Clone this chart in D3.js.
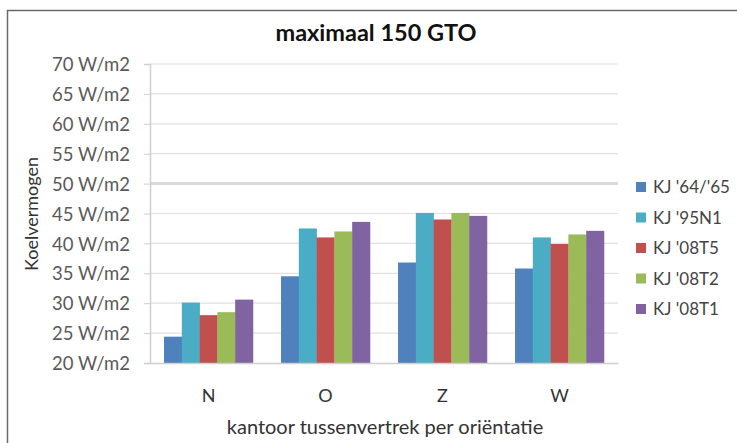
<!DOCTYPE html>
<html><head><meta charset="utf-8">
<script src="https://cdn.jsdelivr.net/npm/d3@7/dist/d3.min.js"></script>
<style>body{margin:0;background:#fff}svg{display:block}text{font-family:Lato,"Open Sans",sans-serif}</style>
</head><body><svg id="c" width="737" height="443"></svg>
<script>
const categories = ["N", "O", "Z", "W"];
const seriesNames = ["KJ '64/'65", "KJ '95N1", "KJ '08T5", "KJ '08T2", "KJ '08T1"];
const s64 = [24.4, 34.5, 36.8, 35.8];
const s95 = [30.1, 42.5, 45.1, 41.0];
const s08T5 = [28.0, 41.0, 44.0, 39.9];
const s08T2 = [28.5, 42.0, 45.1, 41.5];
const s08T1 = [30.6, 43.6, 44.6, 42.1];
const colors = ["#4F81BD", "#4BACC6", "#C0504D", "#9BBB59", "#8064A2"];
const yTicks = [20, 25, 30, 35, 40, 45, 50, 55, 60, 65, 70];
const title = "maximaal 150 GTO";
const yTitle = "Koelvermogen";
const xTitle = "kantoor tussenvertrek per oriëntatie";

const series = [s64, s95, s08T5, s08T2, s08T1];
const svg = d3.select("#c");
const m = {l:150, r:618, t:64, b:363};

// frame
svg.append("rect").attr("x",7.5).attr("y",10.5).attr("width",800).attr("height",500)
  .attr("fill","none").attr("stroke","#6a6a6a").attr("stroke-width",1.5);

const x0 = d3.scaleBand().domain(categories).range([m.l, m.r]).paddingInner(0.24).paddingOuter(0.12);
const x1 = d3.scaleBand().domain(d3.range(series.length)).range([0, x0.bandwidth()]);
const y = d3.scaleLinear().domain([20,70]).range([m.b, m.t]);

// gridlines
svg.append("g").selectAll("line").data(yTicks.filter(d=>d>20)).join("line")
  .attr("x1",m.l).attr("x2",m.r).attr("y1",d=>y(d)).attr("y2",d=>y(d))
  .attr("stroke",d=>d===50?"#dadada":"#e0e0e0").attr("stroke-width",d=>d===50?3:1.2);

// y axis
const ya = svg.append("g").attr("transform",`translate(${m.l},0)`)
  .call(d3.axisLeft(y).tickValues(yTicks).tickSize(6).tickPadding(14).tickFormat(d=>d+" W/m2"));
ya.select(".domain").attr("stroke","#cfcfcf").attr("stroke-width",1.5);
ya.selectAll(".tick line").attr("stroke","#cfcfcf");
ya.selectAll("text").attr("fill","#5a5a5a").style("font-size","18.5px").attr("dy","0.36em");

// bars
const g = svg.append("g");
categories.forEach((c,i)=>{
  series.forEach((s,j)=>{
    g.append("rect").attr("x",x0(c)+x1(j)).attr("width",x1.bandwidth()+0.3)
      .attr("y",y(s[i])).attr("height",y(20)-y(s[i])).attr("fill",colors[j]);
  });
});

// x axis
const xa = svg.append("g").attr("transform",`translate(0,${m.b})`)
  .call(d3.axisBottom(x0).tickSize(0).tickPadding(26));
xa.select(".domain").attr("stroke","#cfcfcf").attr("stroke-width",1.5);
xa.selectAll("text").attr("fill","#333").style("font-size","18px");

// titles
svg.append("text").attr("x",376).attr("y",41).attr("text-anchor","middle")
  .style("font-size","23.5px").style("font-weight","bold").attr("fill","#111").text(title);
svg.append("text").attr("transform","translate(38,214) rotate(-90)").attr("text-anchor","middle")
  .style("font-size","18px").attr("fill","#333").text(yTitle);
svg.append("text").attr("x",385).attr("y",434).attr("text-anchor","middle")
  .style("font-size","20px").attr("fill","#333").text(xTitle);

// legend
const lg = svg.append("g");
seriesNames.forEach((n,j)=>{
  const yy = 187 + j*30.5;
  lg.append("rect").attr("x",636).attr("y",yy-5).attr("width",10).attr("height",10).attr("fill",colors[j]);
  lg.append("text").attr("x",653).attr("y",yy).attr("dy","0.36em").style("font-size","17px").attr("fill","#444").text(n);
});
</script></body></html>
